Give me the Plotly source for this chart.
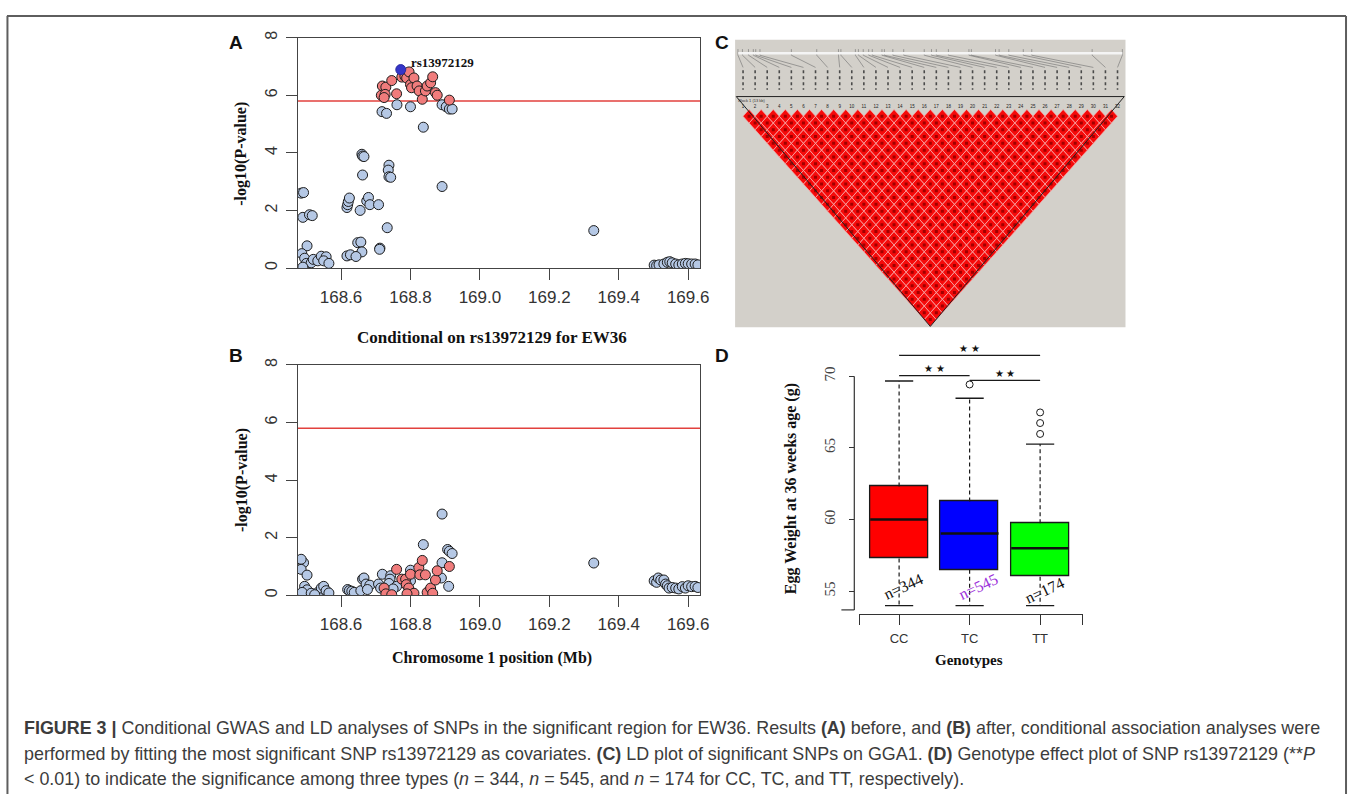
import plotly.graph_objects as go

W, H = 1358, 796
def fx(p): return p / W
def fy(p): return 1 - p / H

# ---------------- Panel A : before conditioning ----------------
A_other_pos = [168.485, 168.492, 168.490, 168.509, 168.517, 168.502, 168.487, 168.495, 168.500, 168.514,
               168.490, 168.520, 168.533, 168.543, 168.557, 168.550, 168.565,
               168.617, 168.619, 168.621, 168.624, 168.655, 168.660, 168.662, 168.666, 168.662,
               168.674, 168.679, 168.683, 168.708, 168.712, 168.711, 168.733, 168.648, 168.657,
               168.660, 168.617, 168.627, 168.643, 168.738, 168.736, 168.738, 168.743,
               168.718, 168.731, 168.761, 168.800, 168.837, 168.891, 168.891, 168.903, 168.912, 168.920,
               169.328,
               169.502, 169.509, 169.516, 169.530, 169.540, 169.547, 169.554, 169.564, 169.573,
               169.583, 169.592, 169.600, 169.610, 169.620, 169.628]
A_other_logp = [2.60, 2.62, 1.76, 1.85, 1.82, 0.77, 0.50, 0.34, 0.16, 0.18,
                0.03, 0.30, 0.25, 0.41, 0.39, 0.25, 0.16,
                2.10, 2.20, 2.31, 2.43, 2.00, 3.95, 3.89, 3.87, 3.23,
                2.33, 2.45, 2.20, 2.20, 0.69, 0.65, 1.40, 0.88, 0.90,
                0.56, 0.42, 0.46, 0.40, 3.57, 3.40, 3.17, 3.15,
                5.43, 5.37, 5.67, 5.60, 4.89, 2.83, 5.67, 5.60, 5.52, 5.52,
                1.30,
                0.10, 0.08, 0.11, 0.14, 0.20, 0.22, 0.18, 0.14, 0.11,
                0.14, 0.16, 0.15, 0.14, 0.14, 0.11]
A_sig_pos = [168.719, 168.729, 168.716, 168.727, 168.724, 168.746, 168.760, 168.775, 168.784, 168.789,
             168.796, 168.800, 168.803, 168.810, 168.819, 168.825, 168.834, 168.843, 168.848, 168.858,
             168.864, 168.872, 168.877, 168.912]
A_sig_logp = [6.32, 6.28, 6.00, 6.03, 5.92, 6.51, 6.05, 6.63, 6.66, 6.60,
              6.81, 6.37, 6.26, 6.60, 6.32, 6.15, 5.86, 6.15, 6.32, 6.43,
              6.64, 6.09, 6.00, 5.83]
lead_snp = "rs13972129"
lead_pos = [168.772]
lead_logp = [6.89]

# ---------------- Panel B : after conditioning ----------------
B_other_pos = [168.492, 168.485, 168.485, 168.502, 168.495, 168.502, 168.488, 168.514, 168.533, 168.543,
               168.550, 168.557, 168.565, 168.524,
               168.619, 168.624, 168.631, 168.638, 168.657, 168.662, 168.666, 168.672, 168.683, 168.676,
               168.708, 168.719, 168.714, 168.743, 168.741, 168.738, 168.760, 168.750,
               168.800, 168.800, 168.837, 168.891, 168.891, 168.889, 168.907, 168.912, 168.920, 168.910,
               169.328,
               169.502, 169.509, 169.514, 169.521, 169.530, 169.535, 169.540, 169.545, 169.554, 169.564,
               169.573, 169.583, 169.592, 169.600, 169.610, 169.620, 169.628]
B_other_logp = [1.13, 1.25, 0.90, 0.70, 0.31, 0.19, 0.10, 0.07, 0.10, 0.25,
                0.31, 0.16, 0.08, 0.02,
                0.20, 0.16, 0.14, 0.10, 0.16, 0.56, 0.60, 0.39, 0.35, 0.20,
                0.39, 0.73, 0.25, 0.68, 0.56, 0.41, 0.31, 0.22,
                0.87, 0.50, 1.76, 2.82, 1.13, 0.60, 1.59, 1.53, 1.45, 0.31,
                1.12,
                0.50, 0.45, 0.60, 0.53, 0.53, 0.39, 0.33, 0.25, 0.27, 0.25,
                0.22, 0.30, 0.25, 0.33, 0.30, 0.31, 0.27]
B_sig_pos = [168.724, 168.729, 168.746, 168.760, 168.775, 168.786, 168.788, 168.795, 168.800, 168.810,
             168.824, 168.827, 168.834, 168.843, 168.848, 168.858, 168.864, 168.872, 168.877, 168.912,
             168.790]
B_sig_logp = [0.25, 0.05, 0.02, 0.90, 0.56, 0.56, 0.37, 0.25, 0.73, 0.07,
              0.96, 0.71, 1.21, 0.71, 0.10, 0.25, 0.07, 0.53, 0.85, 1.00,
              0.05]

threshold = 5.8
x_ticks = [168.6, 168.8, 169.0, 169.2, 169.4, 169.6]
y_ticks = [0, 2, 4, 6, 8]

# ---------------- Panel C : LD block ----------------
n_snps = 32
ld_dprime_all = 1.0          # every pair in strong LD (all cells drawn red)
snp_phys_idx = [0.58, 0.95, 1.45, 1.85, 2.05, 2.4, 5.0, 7.1, 8.9, 9.1, 10.3, 10.55, 10.95, 11.4,
                11.7, 12.5, 12.7, 13.4, 14.3, 16.0, 16.6, 17.0, 18.0, 19.7, 19.9, 21.9, 22.2, 23.0,
                24.2, 24.9, 29.9, 32.4]
block_label = "Block 1 (13 kb)"

# ---------------- Panel D : genotype effect ----------------
genotypes = ["CC", "TC", "TT"]
n_counts = [344, 545, 174]
q1 = [57.28, 56.50, 56.02]
median = [60.00, 59.03, 58.00]
q3 = [62.30, 61.26, 59.75]
whisker_low = [54.0, 54.0, 54.0]
whisker_high = [69.66, 68.46, 65.26]
outlier_group = [2, 3, 3, 3]
outlier_value = [69.42, 65.97, 66.73, 67.47]
box_colors = ["#ff0000", "#0000ff", "#00ff00"]
n_colors = ["#111111", "#9b30d9", "#111111"]
sig_pairs = [(1, 3, 71.45), (1, 2, 70.04), (2, 3, 69.70)]

SERIF = "Liberation Serif"
SANS = "Liberation Sans"

fig = go.Figure()

# ---- A
pt_line = dict(color="#1c1c1c", width=1)
fig.add_trace(go.Scatter(x=A_other_pos, y=A_other_logp, mode="markers", xaxis="x", yaxis="y",
                         marker=dict(color="#b5c8e5", size=10, line=pt_line)))
fig.add_trace(go.Scatter(x=A_sig_pos, y=A_sig_logp, mode="markers", xaxis="x", yaxis="y",
                         marker=dict(color="#f07c7c", size=10, line=pt_line)))
fig.add_trace(go.Scatter(x=lead_pos, y=lead_logp, mode="markers", xaxis="x", yaxis="y",
                         marker=dict(color="#3535c8", size=10, line=dict(color="#2a2aa0", width=1))))
# ---- B
fig.add_trace(go.Scatter(x=B_other_pos, y=B_other_logp, mode="markers", xaxis="x2", yaxis="y2",
                         marker=dict(color="#b5c8e5", size=10, line=pt_line)))
fig.add_trace(go.Scatter(x=B_sig_pos, y=B_sig_logp, mode="markers", xaxis="x2", yaxis="y2",
                         marker=dict(color="#f07c7c", size=10, line=pt_line)))

for yref, xref in (("y", "x domain"), ("y2", "x2 domain")):
    fig.add_shape(type="line", xref=xref, yref=yref, x0=0, x1=1, y0=threshold, y1=threshold,
                  line=dict(color="#e2413d", width=1.6), layer="below")

# ---- C : LD triangle
xs, ys, cx, cy = [], [], [], []
for d in range(1, n_snps):
    for i in range(1, n_snps - d + 1):
        j = i + d
        xc = (i + j) / 2
        xs += [xc, xc + 0.5, xc, xc - 0.5, xc, None]
        ys += [d - 1, d, d + 1, d, d - 1, None]
        cx.append(xc)
        cy.append(d)
fig.add_trace(go.Scatter(x=xs, y=ys, mode="lines", fill="toself", fillcolor="#f50a0a",
                         line=dict(color="#f6a6a6", width=0.7), xaxis="x3", yaxis="y3",
                         hoverinfo="skip"))
fig.add_trace(go.Scatter(x=cx, y=cy, mode="markers", xaxis="x3", yaxis="y3",
                         marker=dict(color="#a00000", size=3, symbol="square"), hoverinfo="skip"))
top_line = -1.9
fig.add_trace(go.Scatter(x=[0.44, (1 + n_snps) / 2, n_snps + 0.56, 0.44],
                         y=[top_line, n_snps, top_line, top_line], mode="lines",
                         line=dict(color="#222222", width=1), xaxis="x3", yaxis="y3"))
# number row
fig.add_trace(go.Scatter(x=list(range(1, n_snps + 1)), y=[-0.45] * n_snps, mode="text",
                         text=[str(k) for k in range(1, n_snps + 1)],
                         textfont=dict(size=4.5, color="#222222", family=SANS),
                         xaxis="x3", yaxis="y3"))
# header: physical map bar, connectors, marker name stubs
hx, hy = [], []
for k, p in enumerate(snp_phys_idx):
    hx += [p, p, None, p, k + 1, None]
    hy += [-8.9, -8.0, None, -8.0, -6.2, None]
fig.add_trace(go.Scatter(x=hx, y=hy, mode="lines", line=dict(color="#6e6e6e", width=0.6),
                         xaxis="x3", yaxis="y3"))
fig.add_trace(go.Scatter(x=[0.6, n_snps + 0.4], y=[-8.3, -8.3], mode="lines",
                         line=dict(color="#f4f4f4", width=2.5), xaxis="x3", yaxis="y3"))
nx, ny = [], []
for k in range(1, n_snps + 1):
    nx += [k, k, None]
    ny += [-5.8, -2.9, None]
fig.add_trace(go.Scatter(x=nx, y=ny, mode="lines", line=dict(color="#4a4a4a", width=1.6, dash="dot"),
                         xaxis="x3", yaxis="y3"))
fig.add_trace(go.Scatter(x=[0.6], y=[-1.3], mode="text", text=[block_label],
                         textposition="middle right",
                         textfont=dict(size=4, color="#333333", family=SANS), xaxis="x3", yaxis="y3"))

# ---- D : boxplot
xpos = [1, 2, 3]
fig.add_trace(go.Bar(x=xpos, y=[b - a for a, b in zip(q1, q3)], base=q1, width=0.82,
                     marker=dict(color=box_colors, line=dict(color="#1a1a1a", width=1.3)),
                     xaxis="x4", yaxis="y4"))
wx, wy, capx, capy, mx, my = [], [], [], [], [], []
for k in range(3):
    x = xpos[k]
    wx += [x, x, None, x, x, None]
    wy += [q3[k], whisker_high[k], None, q1[k], whisker_low[k], None]
    capx += [x - 0.2, x + 0.2, None, x - 0.2, x + 0.2, None]
    capy += [whisker_high[k], whisker_high[k], None, whisker_low[k], whisker_low[k], None]
    mx += [x - 0.41, x + 0.41, None]
    my += [median[k], median[k], None]
fig.add_trace(go.Scatter(x=wx, y=wy, mode="lines", line=dict(color="#1a1a1a", width=1.2, dash="4px,3px"),
                         xaxis="x4", yaxis="y4"))
fig.add_trace(go.Scatter(x=capx, y=capy, mode="lines", line=dict(color="#1a1a1a", width=1.3),
                         xaxis="x4", yaxis="y4"))
fig.add_trace(go.Scatter(x=mx, y=my, mode="lines", line=dict(color="#111111", width=2.6),
                         xaxis="x4", yaxis="y4"))
fig.add_trace(go.Scatter(x=outlier_group, y=outlier_value, mode="markers",
                         marker=dict(symbol="circle-open", size=7, color="#1a1a1a", line=dict(width=1)),
                         xaxis="x4", yaxis="y4"))
sx, sy, tx, ty = [], [], [], []
for a, b, lev in sig_pairs:
    sx += [a, b, None]
    sy += [lev, lev, None]
    tx.append((a + b) / 2)
    ty.append(lev + 0.42)
fig.add_trace(go.Scatter(x=sx, y=sy, mode="lines", line=dict(color="#1a1a1a", width=1.3),
                         xaxis="x4", yaxis="y4", cliponaxis=False))
fig.add_trace(go.Scatter(x=tx, y=ty, mode="text", text=["\u2605 \u2605"] * 3,
                         textfont=dict(size=10, color="#111111"), xaxis="x4", yaxis="y4",
                         cliponaxis=False))
for k in range(3):
    fig.add_annotation(x=xpos[k] + [0.06, 0.13, 0.06][k], y=[55.3, 55.3, 55.07][k], xref="x4", yref="y4",
                       text=f"n={n_counts[k]}", showarrow=False, textangle=-25,
                       font=dict(family=SERIF, size=16, color=n_colors[k]))

# ---------------- axes ----------------
ax_common = dict(showline=True, linecolor="#444444", linewidth=1.3, mirror=True, ticks="outside",
                 ticklen=11, tickwidth=1.2, tickcolor="#444444", showgrid=False, zeroline=False)
fig.update_layout(
    width=W, height=H, margin=dict(l=0, r=0, t=0, b=0),
    paper_bgcolor="white", plot_bgcolor="white", showlegend=False,
    xaxis=dict(domain=[fx(300), fx(705)], range=[168.476, 169.635], tickvals=x_ticks,
               tickformat=".1f", anchor="y", ticklabelstandoff=2,
               tickfont=dict(family=SANS, size=17, color="#333333"), **ax_common),
    yaxis=dict(domain=[fy(264), fy(31)], range=[0, 8], tickvals=y_ticks, tickangle=-90,
               anchor="x", ticklabelstandoff=2,
               tickfont=dict(family=SANS, size=16, color="#333333"), **ax_common),
    xaxis2=dict(domain=[fx(300), fx(705)], range=[168.476, 169.635], tickvals=x_ticks,
                tickformat=".1f", anchor="y2", ticklabelstandoff=2,
                tickfont=dict(family=SANS, size=17, color="#333333"), **ax_common),
    yaxis2=dict(domain=[fy(595), fy(362)], range=[0, 8], tickvals=y_ticks, tickangle=-90,
                anchor="x2", ticklabelstandoff=2,
                tickfont=dict(family=SANS, size=16, color="#333333"), **ax_common),
    xaxis3=dict(domain=[fx(740), fx(1133)], range=[0.342, 32.66], visible=False, anchor="y3"),
    yaxis3=dict(domain=[fy(324), fy(33)], range=[32.14, -10.3], visible=False, anchor="x3"),
    xaxis4=dict(domain=[fx(865), fx(1090)], range=[0.435, 3.605], tickvals=[0.44, 1, 2, 3, 3.6],
                ticktext=["", "CC", "TC", "TT", ""], showline=True, linecolor="#333333", linewidth=1.2,
                ticks="outside", ticklen=10, tickwidth=1.2, tickcolor="#333333", showgrid=False,
                zeroline=False, anchor="y4", ticklabelstandoff=2,
                tickfont=dict(family=SANS, size=13, color="#333333")),
    yaxis4=dict(domain=[fy(614), fy(340)], range=[53.41, 72.3], tickvals=[55, 60, 65, 70],
                tickangle=-90, showline=False, ticks="outside", ticklen=5, tickwidth=1.2,
                tickcolor="#333333", showgrid=False, zeroline=False, anchor="free", position=fx(860),
                ticklabelstandoff=8, tickfont=dict(family=SERIF, size=15, color="#444444")),
    bargap=0,
)

# LD panel background and D axis line
fig.add_shape(type="rect", xref="paper", yref="paper", x0=fx(740), x1=fx(1133), y0=fy(324), y1=fy(33),
              fillcolor="#d3d0ca", line=dict(width=0), layer="below")
fig.add_shape(type="line", xref="paper", yref="y4", x0=fx(860), x1=fx(860), y0=53.7, y1=70,
              line=dict(color="#333333", width=1.2))
fig.add_shape(type="line", xref="paper", yref="y4", x0=fx(847), x1=fx(860), y0=53.7, y1=53.7,
              line=dict(color="#333333", width=1.2))

# figure frame
frame = dict(color="#5e5e5e", width=2)
fig.add_shape(type="line", xref="paper", yref="paper", x0=fx(7), x1=fx(1355), y0=fy(9), y1=fy(9), line=frame)
fig.add_shape(type="line", xref="paper", yref="paper", x0=fx(7.5), x1=fx(7.5), y0=fy(9), y1=0, line=frame)
fig.add_shape(type="line", xref="paper", yref="paper", x0=fx(1355), x1=fx(1355), y0=fy(9), y1=0, line=frame)

def note(text, x, y, size, family=SERIF, angle=0, color="#111111", xanchor="center"):
    fig.add_annotation(x=fx(x), y=fy(y), xref="paper", yref="paper", text=text, showarrow=False,
                       textangle=angle, xanchor=xanchor, yanchor="middle",
                       font=dict(family=family, size=size, color=color))

for lab, x, y in (("A", 238, 36), ("B", 238, 352), ("C", 727, 36), ("D", 727, 352)):
    note(f"<b>{lab}</b>", x, y, 19, family=SANS)

note(f"<b>{lead_snp}</b>", 445, 56, 13)
note("<b>-log10(P-value)</b>", 243, 148, 16, angle=-90)
note("<b>-log10(P-value)</b>", 243, 478, 16, angle=-90)
note(f"<b>Conditional on {lead_snp} for EW36</b>", 495, 334, 17)
note("<b>Chromosome 1 position (Mb)</b>", 495, 658, 16)
note("<b>Egg Weight at 36 weeks age (g)</b>", 797, 487, 16, angle=-90)
note("<b>Genotypes</b>", 975, 660, 15)

cap1 = ("<b>FIGURE 3 |</b> Conditional GWAS and LD analyses of SNPs in the significant region for EW36. "
        "Results <b>(A)</b> before, and <b>(B)</b> after, conditional association analyses were")
cap2 = ("performed by fitting the most significant SNP rs13972129 as covariates. <b>(C)</b> LD plot of "
        "significant SNPs on GGA1. <b>(D)</b> Genotype effect plot of SNP rs13972129 (**<i>P</i>")
cap3 = ("&lt; 0.01) to indicate the significance among three types (<i>n</i> = 344, <i>n</i> = 545, "
        "and <i>n</i> = 174 for CC, TC, and TT, respectively).")
for t, y in ((cap1, 729), (cap2, 756), (cap3, 781)):
    note(t, 22, y, 17.9, family=SANS, color="#3c3c3c", xanchor="left")

fig.write_html("out.html", config={"displayModeBar": False},
               post_script="document.body.style.margin='0px';")
